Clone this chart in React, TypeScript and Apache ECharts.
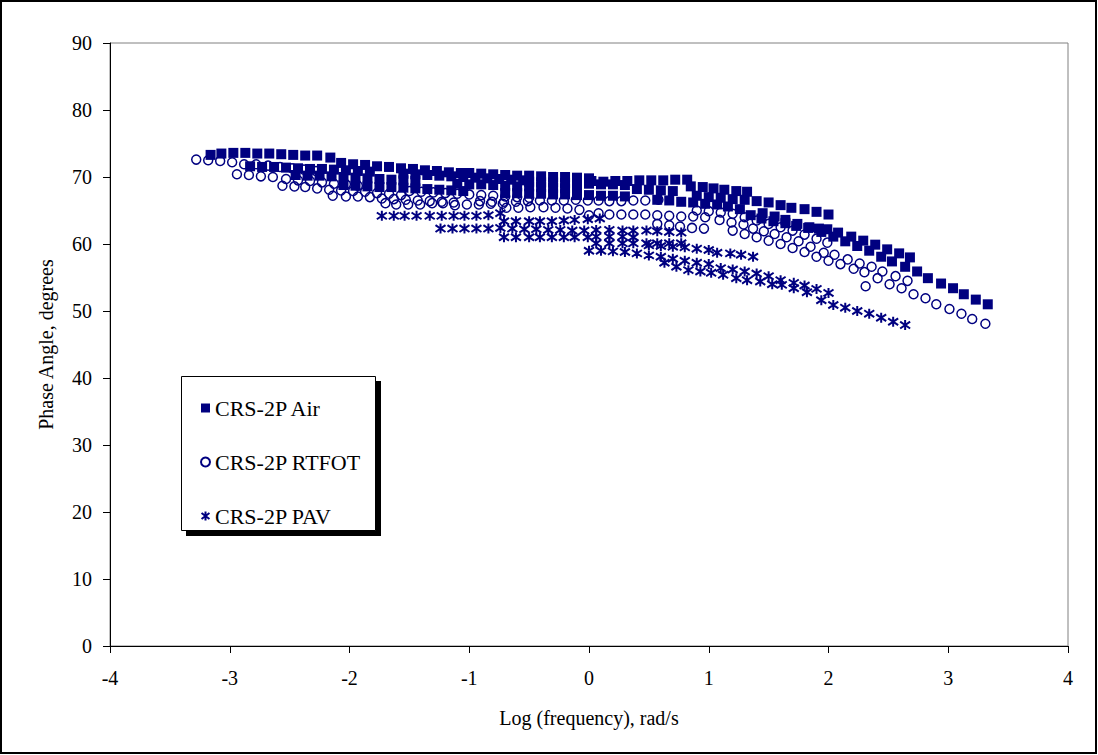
import React, { useEffect, useRef } from "react";
import * as echarts from "echarts";

const seriesNames = ["CRS-2P Air", "CRS-2P RTFOT", "CRS-2P PAV"];
const xAxisTitle = "Log (frequency), rad/s";
const yAxisTitle = "Phase Angle, degrees";

// CRS-2P Air (filled squares): [log frequency, phase angle]
const airPoints: [number, number][] = [
  [-3.16, 73.3], [-3.07, 73.5], [-2.97, 73.6], [-2.87, 73.6], [-2.77, 73.5], [-2.67, 73.5], [-2.57, 73.4], [-2.47, 73.3], [-2.37, 73.2], [-2.27, 73.2], [-2.16, 72.9],
  [-2.83, 71.6], [-2.73, 71.5], [-2.63, 71.5], [-2.53, 71.4], [-2.43, 71.3], [-2.33, 71.2], [-2.23, 71.2], [-2.13, 71.1], [-2.03, 71.0], [-1.93, 70.9], [-1.83, 70.8],
  [-2.07, 72.1], [-1.97, 71.9], [-1.87, 71.8], [-1.77, 71.6], [-1.67, 71.5], [-1.57, 71.3], [-1.47, 71.2], [-1.37, 71.0], [-1.27, 70.9], [-1.17, 70.7], [-1.07, 70.6],
  [-2.45, 70.3], [-2.35, 70.2], [-2.25, 70.2], [-2.15, 70.1], [-2.05, 70.0], [-1.95, 69.9], [-1.85, 69.8], [-1.75, 69.7], [-1.65, 69.6], [-1.55, 69.5], [-1.45, 69.4],
  [-2.05, 68.8], [-1.95, 68.7], [-1.85, 68.6], [-1.75, 68.5], [-1.65, 68.5], [-1.55, 68.4], [-1.45, 68.3], [-1.35, 68.2], [-1.25, 68.1], [-1.15, 68.0], [-1.05, 67.9],
  [-1.55, 70.5], [-1.45, 70.4], [-1.35, 70.3], [-1.25, 70.2], [-1.15, 70.1], [-1.05, 70.0], [-0.95, 69.9], [-0.85, 69.8], [-0.75, 69.7], [-0.65, 69.6], [-0.55, 69.5],
  [-1.0, 70.6], [-0.9, 70.5], [-0.8, 70.4], [-0.7, 70.3], [-0.6, 70.2], [-0.5, 70.2], [-0.4, 70.1], [-0.3, 70.0], [-0.2, 70.0], [-0.1, 69.9], [0.0, 69.8],
  [-1.1, 69.0], [-1.0, 68.9], [-0.9, 68.9], [-0.8, 68.8], [-0.7, 68.7], [-0.6, 68.6], [-0.5, 68.6], [-0.4, 68.5], [-0.3, 68.4], [-0.2, 68.3], [-0.1, 68.3],
  [-0.7, 67.6], [-0.6, 67.6], [-0.5, 67.5], [-0.4, 67.5], [-0.3, 67.4], [-0.2, 67.4], [-0.1, 67.3], [0.0, 67.3], [0.1, 67.2], [0.2, 67.2], [0.3, 67.1],
  [0.02, 69.4], [0.12, 69.3], [0.22, 69.4], [0.32, 69.4], [0.42, 69.5], [0.52, 69.5], [0.62, 69.5], [0.72, 69.6], [0.82, 69.6],
  [-0.5, 69.3], [-0.4, 69.2], [-0.3, 69.2], [-0.2, 69.1], [-0.1, 69.1], [0.0, 69.0], [0.1, 68.9], [0.2, 68.9], [0.3, 68.8],
  [0.4, 68.2], [0.5, 68.1], [0.6, 68.0], [0.7, 67.9], [0.85, 68.6], [0.95, 68.5], [1.04, 68.3], [1.13, 68.1], [1.23, 67.9], [1.32, 67.8],
  [0.9, 67.2], [1.0, 67.0], [1.1, 66.9], [1.2, 66.7], [1.3, 66.6], [1.4, 66.4], [1.5, 66.2], [1.6, 65.8], [1.69, 65.4], [1.8, 65.2], [1.9, 64.8], [2.0, 64.4],
  [0.57, 66.6], [0.67, 66.5], [0.77, 66.3], [0.87, 66.2], [0.97, 66.0], [1.07, 65.9], [1.16, 65.6], [1.26, 65.2], [1.35, 64.3], [1.44, 63.8], [1.54, 63.4], [1.64, 63.1],
  [1.73, 62.7], [1.83, 62.4], [1.92, 62.3], [1.99, 62.2], [2.08, 61.7], [2.19, 61.1], [2.29, 60.5], [2.39, 59.9], [2.49, 59.2], [2.59, 58.6], [2.68, 58.0],
  [1.45, 64.6], [1.55, 64.1], [1.64, 63.6], [1.74, 63.0], [1.84, 62.5], [1.94, 61.8], [2.04, 61.1], [2.14, 60.4], [2.24, 59.7], [2.34, 59.0], [2.44, 58.1],
  [2.53, 57.4], [2.64, 56.6], [2.74, 55.9], [2.83, 54.9], [2.94, 54.1], [3.04, 53.4], [3.13, 52.5], [3.23, 51.7], [3.33, 51.0],
];

// CRS-2P RTFOT (open circles)
const rtfotPoints: [number, number][] = [
  [-3.28, 72.6], [-3.18, 72.5], [-3.08, 72.4], [-2.98, 72.2], [-2.88, 71.9], [-2.78, 71.9], [-2.68, 71.7], [-2.58, 71.5], [-2.48, 71.3], [-2.38, 71.1], [-2.28, 70.9],
  [-2.94, 70.4], [-2.84, 70.3], [-2.74, 70.1], [-2.64, 70.0], [-2.53, 69.7], [-2.43, 69.5], [-2.33, 69.4], [-2.23, 69.2], [-2.13, 69.0], [-2.03, 68.9], [-1.93, 68.7],
  [-2.56, 68.7], [-2.46, 68.6], [-2.37, 68.5], [-2.27, 68.3], [-2.17, 68.1], [-2.07, 68.0], [-1.97, 67.9], [-1.87, 67.8], [-1.77, 67.6], [-1.67, 67.5], [-1.57, 67.3],
  [-2.14, 67.2], [-2.03, 67.1], [-1.93, 67.1], [-1.83, 67.0], [-1.73, 66.8], [-1.63, 66.7], [-1.53, 66.6], [-1.43, 66.5], [-1.33, 66.4], [-1.23, 66.3], [-1.13, 66.2],
  [-1.7, 66.1], [-1.61, 65.9], [-1.51, 65.9], [-1.41, 65.9], [-1.31, 66.1], [-1.22, 66.1], [-1.12, 65.8], [-1.02, 65.9], [-0.92, 65.9], [-0.82, 66.0], [-0.72, 66.0],
  [-1.5, 67.9], [-1.4, 67.8], [-1.3, 67.7], [-1.2, 67.6], [-1.1, 67.5], [-1.0, 67.4], [-0.9, 67.3], [-0.8, 67.2], [-0.7, 67.1], [-0.6, 67.0], [-0.5, 66.9],
  [-0.91, 66.4], [-0.81, 66.3], [-0.71, 66.3], [-0.61, 66.3], [-0.51, 66.4], [-0.41, 66.5], [-0.31, 66.5], [-0.21, 66.5], [-0.11, 66.6], [-0.01, 66.5], [0.08, 66.5],
  [0.17, 66.4], [0.27, 66.4], [0.37, 66.5], [0.47, 66.5], [0.58, 66.6],
  [-0.69, 65.4], [-0.59, 65.4], [-0.49, 65.5], [-0.38, 65.5], [-0.28, 65.4], [-0.18, 65.3], [-0.08, 65.1],
  [0.0, 64.3], [0.08, 64.6], [0.17, 64.4], [0.27, 64.4], [0.37, 64.4], [0.47, 64.4], [0.57, 64.3], [0.67, 64.2], [0.77, 64.1], [0.87, 64.1], [0.97, 64.0],
  [0.57, 63.0], [0.67, 62.8], [0.76, 62.6], [0.86, 62.4], [0.96, 62.3],
  [0.9, 65.0], [1.0, 64.9], [1.1, 64.7], [1.2, 64.5], [1.3, 64.0], [1.4, 63.5], [1.5, 63.0], [1.6, 62.5], [1.7, 62.0], [1.8, 61.4], [1.9, 60.8], [1.99, 60.2],
  [1.09, 63.6], [1.19, 63.2], [1.29, 62.9], [1.37, 62.3], [1.46, 61.9], [1.55, 61.5], [1.65, 61.0], [1.75, 60.4], [1.85, 59.6], [1.96, 58.7], [2.05, 58.4],
  [2.16, 57.7], [2.26, 57.1], [2.36, 56.6], [2.45, 55.9], [2.56, 55.2], [2.66, 54.5],
  [1.2, 62.0], [1.3, 61.5], [1.4, 61.0], [1.5, 60.5], [1.6, 60.0], [1.7, 59.4], [1.8, 58.8], [1.9, 58.1], [2.0, 57.5], [2.1, 57.0], [2.21, 56.3], [2.3, 55.8],
  [2.41, 54.9], [2.51, 54.0], [2.61, 53.4], [2.71, 52.5], [2.81, 51.9], [2.9, 51.0], [3.01, 50.3], [3.11, 49.6], [3.2, 48.8], [3.31, 48.1],
  [2.31, 53.7],
];

// CRS-2P PAV (asterisks)
const pavPoints: [number, number][] = [
  [-1.73, 64.2], [-1.63, 64.2], [-1.54, 64.2], [-1.44, 64.2], [-1.33, 64.2], [-1.23, 64.2], [-1.13, 64.2], [-1.04, 64.2], [-0.94, 64.2], [-0.84, 64.3], [-0.74, 64.6],
  [-1.24, 62.3], [-1.14, 62.3], [-1.04, 62.3], [-0.94, 62.3], [-0.84, 62.3], [-0.74, 62.4], [-0.64, 62.3], [-0.54, 62.2], [-0.44, 62.2], [-0.34, 62.1], [-0.24, 62.1],
  [-0.14, 62.0], [-0.04, 62.0], [0.06, 62.1], [0.17, 62.1], [0.28, 62.0], [0.37, 62.0], [0.48, 62.0], [0.57, 61.9], [0.67, 61.8], [0.77, 61.7],
  [-0.71, 63.4], [-0.61, 63.4], [-0.5, 63.4], [-0.41, 63.4], [-0.31, 63.4], [-0.21, 63.5], [-0.12, 63.6], [-0.01, 63.7], [0.09, 63.8],
  [-0.71, 61.0], [-0.61, 61.0], [-0.5, 61.0], [-0.41, 61.0], [-0.31, 61.0], [-0.21, 61.0], [-0.12, 61.0], [-0.01, 61.0], [0.06, 61.1], [0.17, 61.1], [0.28, 61.1], [0.37, 61.0],
  [0.06, 60.1], [0.17, 60.1], [0.28, 60.1], [0.37, 60.1], [0.48, 60.1], [0.57, 60.1], [0.67, 60.1], [0.77, 60.1],
  [0.0, 59.0], [0.1, 59.0], [0.2, 58.9], [0.3, 58.8], [0.4, 58.6], [0.5, 58.3], [0.6, 58.1], [0.7, 57.8], [0.8, 57.5], [0.9, 57.2], [1.0, 57.0],
  [0.5, 59.8], [0.6, 59.7], [0.7, 59.6], [0.8, 59.5], [0.9, 59.3], [1.0, 59.1], [1.07, 58.7], [1.18, 58.6], [1.27, 58.4], [1.37, 58.1],
  [1.1, 56.4], [1.2, 56.2], [1.3, 55.9], [1.4, 55.6], [1.5, 55.2], [1.6, 54.6], [1.71, 54.2], [1.8, 53.8], [1.9, 53.3], [2.0, 52.7],
  [0.63, 57.2], [0.73, 56.6], [0.83, 56.1], [0.93, 55.9], [1.02, 55.7], [1.12, 55.4], [1.23, 54.9], [1.32, 54.6], [1.43, 54.4], [1.53, 54.0], [1.61, 53.9],
  [1.71, 53.4], [1.82, 52.8], [1.94, 51.6], [2.04, 50.9], [2.14, 50.5], [2.24, 50.0], [2.34, 49.6], [2.44, 49.0], [2.54, 48.4], [2.64, 47.9],
];

const NAVY = "#000080";
const FONT = "'Liberation Serif', 'Times New Roman', serif";
const ASTERISK = "path://M5,0L5,10M0.6,1.6L9.4,8.4M0.6,8.4L9.4,1.6";

export default function App() {
  const ref = useRef<HTMLDivElement>(null);
  useEffect(() => {
    if (!ref.current) return;
    const chart = echarts.init(ref.current, undefined, { renderer: "svg" });
    chart.setOption({
      animation: false,
      backgroundColor: "#ffffff",
      grid: { left: 110, top: 43, width: 958, height: 603, show: true, borderColor: "#808080", borderWidth: 1, backgroundColor: "transparent" },
      xAxis: {
        type: "value", min: -4, max: 4, interval: 1,
        name: xAxisTitle, nameLocation: "middle", nameGap: 62,
        nameTextStyle: { fontFamily: FONT, fontSize: 20, color: "#000" },
        axisLine: { onZero: false, lineStyle: { color: "#000", width: 1 } },
        axisTick: { show: true, inside: false, length: 7, lineStyle: { color: "#000" } },
        axisLabel: { fontFamily: FONT, fontSize: 20, color: "#000", margin: 22 },
        splitLine: { show: false },
      },
      yAxis: {
        type: "value", min: 0, max: 90, interval: 10,
        name: yAxisTitle, nameLocation: "middle", nameGap: 54, nameRotate: 90,
        nameTextStyle: { fontFamily: FONT, fontSize: 20, color: "#000" },
        axisLine: { show: true, onZero: false, lineStyle: { color: "#000", width: 1 } },
        axisTick: { show: true, inside: false, length: 7, lineStyle: { color: "#000" } },
        axisLabel: { fontFamily: FONT, fontSize: 20, color: "#000", margin: 18 },
        splitLine: { show: false },
      },
      legend: {
        orient: "vertical", left: 195, top: 392, itemWidth: 9, itemHeight: 9, itemGap: 32,
        textStyle: { fontFamily: FONT, fontSize: 22, color: "#000", lineHeight: 22 },
        data: seriesNames,
      },
      graphic: [
        { type: "rect", z: -10, shape: { x: 1, y: 1, width: 1095, height: 752 }, style: { fill: "transparent", stroke: "#000", lineWidth: 2 } },
        { type: "rect", z: 0, shape: { x: 186, y: 381, width: 195, height: 155 }, style: { fill: "#000" } },
        { type: "rect", z: 1, shape: { x: 181.5, y: 376.5, width: 194, height: 154 }, style: { fill: "#fff", stroke: "#000", lineWidth: 1 } },
      ],
      series: [
        {
          name: seriesNames[0], type: "scatter", data: airPoints, symbol: "rect", symbolSize: 10,
          itemStyle: { color: NAVY, opacity: 1 },
        },
        {
          name: seriesNames[1], type: "scatter", data: rtfotPoints, symbol: "circle", symbolSize: 9,
          itemStyle: { color: "transparent", borderColor: NAVY, borderWidth: 1.5, opacity: 1 },
        },
        {
          name: seriesNames[2], type: "scatter", data: pavPoints, symbol: ASTERISK, symbolSize: 10,
          itemStyle: { color: "transparent", borderColor: NAVY, borderWidth: 2, opacity: 1 },
        },
      ],
    });
    return () => chart.dispose();
  }, []);
  return <div ref={ref} style={{ position: "absolute", left: 0, top: 0, width: 1098, height: 755 }} />;
}
